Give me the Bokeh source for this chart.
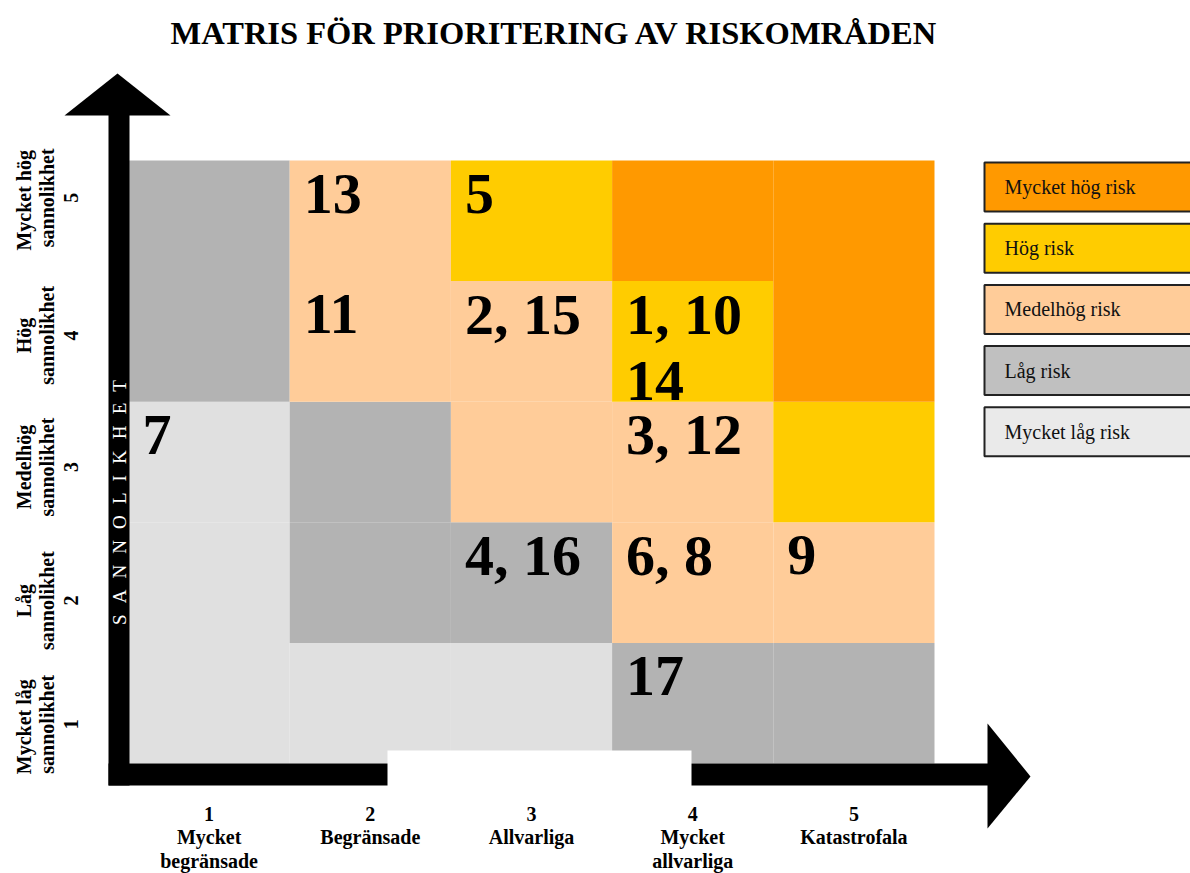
import math
from bokeh.plotting import figure
from bokeh.models import Range1d, ColumnDataSource
from bokeh.embed import file_html
from bokeh.resources import INLINE
from bokeh.core.properties import value

# ---------------- data ----------------
title_text = "MATRIS FÖR PRIORITERING AV RISKOMRÅDEN"
axis_word = "SANNOLIKHET"

impact = [1, 2, 3, 4, 5]
impact_labels = ["1\nMycket\nbegränsade", "2\nBegränsade", "3\nAllvarliga",
                 "4\nMycket\nallvarliga", "5\nKatastrofala"]

likelihood = [1, 2, 3, 4, 5]
likelihood_labels = ["Mycket  låg\nsannolikhet\n1", "Låg\nsannolikhet\n2",
                     "Medelhög\nsannolikhet\n3", "Hög\nsannolikhet\n4",
                     "Mycket  hög\nsannolikhet\n5"]

# risk level per cell: rows = likelihood 1..5, columns = impact 1..5
# 0 = Mycket låg, 1 = Låg, 2 = Medelhög, 3 = Hög, 4 = Mycket hög
risk_row_1 = [0, 0, 0, 1, 1]
risk_row_2 = [0, 1, 1, 2, 2]
risk_row_3 = [0, 1, 2, 2, 3]
risk_row_4 = [1, 2, 2, 3, 4]
risk_row_5 = [1, 2, 3, 4, 4]
risk_rows = [risk_row_1, risk_row_2, risk_row_3, risk_row_4, risk_row_5]

risk_level_names = ["Mycket låg risk", "Låg risk", "Medelhög risk", "Hög risk", "Mycket hög risk"]

item_impact = [2, 3, 2, 3, 4, 1, 4, 3, 4, 5, 4]
item_likelihood = [5, 5, 4, 4, 4, 3, 3, 2, 2, 2, 1]
item_labels = ["13", "5", "11", "2, 15", "1, 10\n14", "7", "3, 12", "4, 16", "6, 8", "9", "17"]

# ---------------- styles ----------------
cell_colors = ["#e0e0e0", "#b3b3b3", "#ffcc99", "#ffcc00", "#ff9900"]
legend_colors = ["#eaeaea", "#c0c0c0", "#ffcc99", "#ffcc00", "#ff9900"]
SERIF = value("Liberation Serif")

W, H = 1190, 873
# layout: page pixel -> data helpers (grid spans impact 0.5..5.5, likelihood 0.5..5.5)
GX0, GX1 = 128.0, 934.0
GY_TOP, GY_BOT = 160.0, 763.0
SX = (GX1 - GX0) / 5.0
SY = (GY_BOT - GY_TOP) / 5.0


def dx(px):
    return 0.5 + (px - GX0) / SX


def dy(py):
    return 5.5 - (py - GY_TOP) / SY


p = figure(width=W, height=H, output_backend="svg", toolbar_location=None,
           x_range=Range1d(dx(0), dx(W)), y_range=Range1d(dy(H), dy(0)),
           x_axis_type=None, y_axis_type=None, min_border=0)
p.grid.visible = False
p.outline_line_color = None
p.background_fill_color = "white"
p.border_fill_color = "white"

# ---------------- matrix cells ----------------
cx, cy, cc = [], [], []
for li, row in zip(likelihood, risk_rows):
    for ii, lvl in zip(impact, row):
        cx.append(ii)
        cy.append(li)
        cc.append(cell_colors[lvl])
cells = ColumnDataSource(dict(left=[x - 0.5 for x in cx], right=[x + 0.5 for x in cx],
                              bottom=[y - 0.5 for y in cy], top=[y + 0.5 for y in cy], color=cc))
p.quad(left="left", right="right", bottom="bottom", top="top", fill_color="color",
       line_color=None, source=cells)

# ---------------- arrows ----------------
blk = "#000000"
p.quad(left=[dx(108)], right=[dx(129)], top=[dy(114)], bottom=[dy(785)], fill_color=blk, line_color=None)
p.patch(x=[dx(64), dx(170), dx(117)], y=[dy(115), dy(115), dy(73)], fill_color=blk, line_color=None)
p.quad(left=[dx(108)], right=[dx(988)], top=[dy(763)], bottom=[dy(785)], fill_color=blk, line_color=None)
p.patch(x=[dx(987), dx(987), dx(1030)], y=[dy(723), dy(828), dy(776)], fill_color=blk, line_color=None)
# white patch cutting the bottom
p.quad(left=[dx(387)], right=[dx(691)], top=[dy(750)], bottom=[dy(786)], fill_color="white", line_color=None)

# vertical word on the arrow shaft
spaced = "\u2002\u200a".join(list(axis_word))
p.text(x=[dx(118.5)], y=[dy(502)], text=[spaced], angle=math.pi / 2, text_align="center",
       text_baseline="middle", text_color="white", text_font=SERIF, text_font_size="19px")

# ---------------- risk item labels (one text per line) ----------------
tx, ty, tt, to = [], [], [], []
for i, l, lab in zip(item_impact, item_likelihood, item_labels):
    for k, line in enumerate(lab.split("\n")):
        tx.append(i - 0.5)
        ty.append(l + 0.5)
        tt.append(line)
        to.append(33 + 67 * k)
items = ColumnDataSource(dict(x=tx, y=ty, text=tt, yo=to))
p.text(x="x", y="y", text="text", source=items, x_offset=14, y_offset="yo",
       text_baseline="alphabetic", text_align="left", text_font=SERIF, text_font_style="bold",
       text_font_size="58px", text_color="black")

# ---------------- axis labels ----------------
p.text(x=impact, y=[0.5] * 5, text=impact_labels, y_offset=39, text_align="center",
       text_baseline="top", text_font=SERIF, text_font_style="bold", text_font_size="20px",
       text_line_height=1.08, text_color="black")

ylab_offset_px = [21, 18, 5, -6, -23]
ylabs = ColumnDataSource(dict(x=[dx(47)] * 5, y=likelihood, text=likelihood_labels, yo=ylab_offset_px))
p.text(x="x", y="y", text="text", y_offset="yo", source=ylabs, angle=math.pi / 2,
       text_align="center", text_baseline="middle", text_font=SERIF, text_font_style="bold",
       text_font_size="20px", text_line_height=1.08, text_color="black")

# ---------------- legend ----------------
leg_order = [4, 3, 2, 1, 0]
lt, lb = [], []
for k, lvl in enumerate(leg_order):
    top = 162 + k * 61.2
    lt.append(dy(top))
    lb.append(dy(top + 49))
leg = ColumnDataSource(dict(left=[dx(984)] * 5, right=[dx(1260)] * 5, top=lt, bottom=lb,
                            color=[legend_colors[l] for l in leg_order],
                            tx=[dx(1004)] * 5, ty=[(a + b) / 2 for a, b in zip(lt, lb)],
                            text=[risk_level_names[l] for l in leg_order]))
p.quad(left="left", right="right", top="top", bottom="bottom", fill_color="color",
       line_color="#222222", line_width=2, source=leg)
p.text(x="tx", y="ty", text="text", source=leg, text_align="left", text_baseline="middle",
       text_font=SERIF, text_font_size="20px", text_color="#111111")

# ---------------- title ----------------
p.text(x=[dx(554)], y=[dy(32)], text=[title_text], text_align="center", text_baseline="middle",
       text_font=SERIF, text_font_style="bold", text_font_size="32.5px", text_color="black")

open("out.html", "w").write(file_html(p, INLINE))
